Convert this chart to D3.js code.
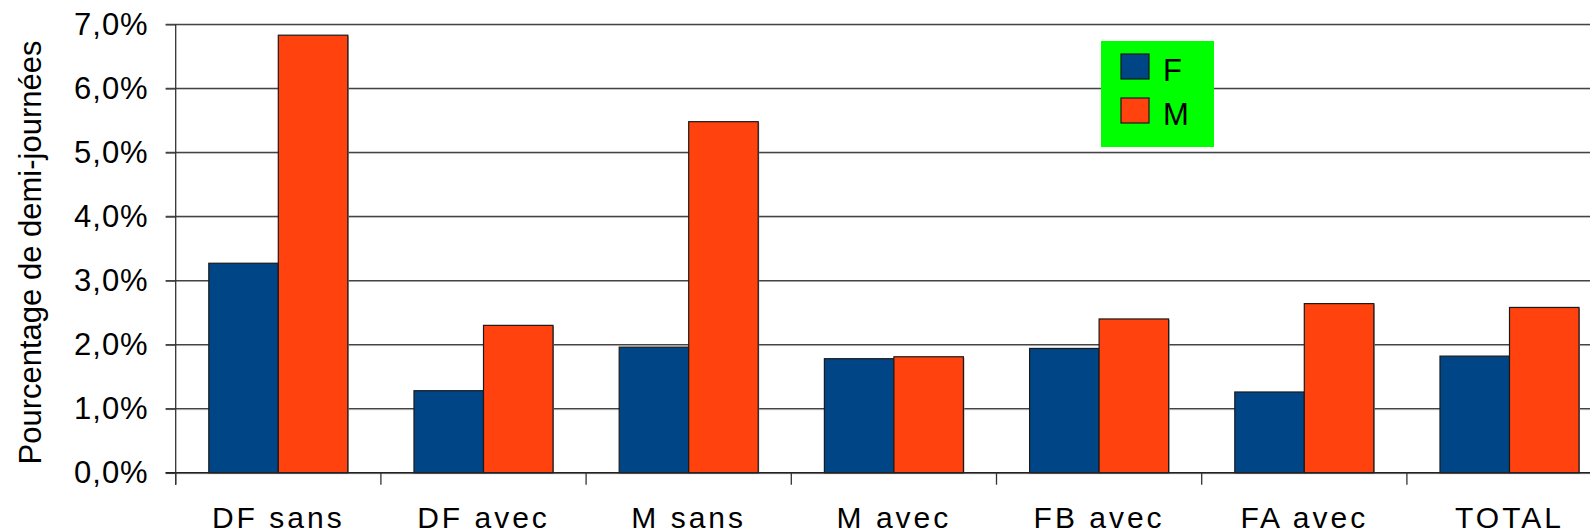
<!DOCTYPE html>
<html>
<head>
<meta charset="utf-8">
<script src="https://cdn.jsdelivr.net/npm/d3@7"></script>
<style>
  html, body { margin: 0; padding: 0; background: #fff; }
  svg { display: block; font-family: "Liberation Sans", Arial, sans-serif; }
</style>
</head>
<body>
<div id="chart"></div>
<script>
const categories = ["DF sans", "DF avec", "M sans", "M avec", "FB avec", "FA avec", "TOTAL"];
const seriesNames = ["F", "M"];
const valuesF = [0.0327, 0.0128, 0.0196, 0.0178, 0.0194, 0.0126, 0.0182];
const valuesM = [0.0683, 0.0230, 0.0548, 0.0181, 0.0240, 0.0264, 0.0258];
const yTicks = [0, 0.01, 0.02, 0.03, 0.04, 0.05, 0.06, 0.07];
const yTitle = "Pourcentage de demi-journées";

const colors = { F: "#004586", M: "#ff420e" };
const W = 1590, H = 531;
const left = 175.7, baseY = 472.7, topY = 24.3, bandW = 205.2;

const fr = d3.formatLocale({ decimal: ",", thousands: " ", grouping: [3], currency: ["", " €"] });
const pct = fr.format(".1%");

const rows = categories.map((c, i) => ({ cat: c, F: valuesF[i], M: valuesM[i] }));

const svg = d3.select("#chart").append("svg")
  .attr("width", W).attr("height", H);

const x0 = d3.scaleBand().domain(categories)
  .range([left, left + bandW * categories.length]).padding(0);
const x1 = d3.scaleBand().domain(seriesNames)
  .range([0, x0.bandwidth()]).paddingInner(0).paddingOuter(0.476);
const y = d3.scaleLinear().domain([0, 0.07]).range([baseY, topY]);

// gridlines (dark line with a light shade under it)
const grid = svg.append("g");
yTicks.forEach(t => {
  grid.append("line").attr("x1", left - 10).attr("x2", W)
    .attr("y1", y(t) + 1).attr("y2", y(t) + 1)
    .attr("stroke", "#bbb").attr("stroke-width", 1);
  grid.append("line").attr("x1", left - 10).attr("x2", W)
    .attr("y1", y(t)).attr("y2", y(t))
    .attr("stroke", "#444").attr("stroke-width", 1.3);
});

// bars
const groups = svg.append("g").selectAll("g")
  .data(rows).join("g")
  .attr("transform", d => `translate(${x0(d.cat)},0)`);

groups.selectAll("rect.shade")
  .data(d => seriesNames.map(k => ({ key: k, value: d[k] })))
  .join("rect").attr("class", "shade")
  .attr("x", d => x1(d.key) + 1)
  .attr("y", d => y(d.value) + 1)
  .attr("width", x1.bandwidth())
  .attr("height", d => baseY - y(d.value))
  .attr("fill", "#999");

groups.selectAll("rect.bar")
  .data(d => seriesNames.map(k => ({ key: k, value: d[k] })))
  .join("rect").attr("class", "bar")
  .attr("x", d => x1(d.key))
  .attr("y", d => y(d.value))
  .attr("width", x1.bandwidth())
  .attr("height", d => baseY - y(d.value))
  .attr("fill", d => colors[d.key])
  .attr("stroke", "#1a1a1a").attr("stroke-width", 1.2);

// y axis
const yAxis = svg.append("g")
  .attr("transform", `translate(${left},0)`)
  .call(d3.axisLeft(y).tickValues(yTicks).tickFormat(pct).tickSize(10).tickPadding(17));
yAxis.select(".domain").remove();
yAxis.selectAll(".tick line").attr("stroke", "#444").attr("stroke-width", 1.3);
yAxis.selectAll("text")
  .attr("font-size", 31).attr("fill", "#000")
  .attr("letter-spacing", 1)
  .attr("font-family", "Liberation Sans, Arial, sans-serif");
svg.append("line")
  .attr("x1", left).attr("x2", left).attr("y1", topY).attr("y2", baseY + 12)
  .attr("stroke", "#333").attr("stroke-width", 1.3);

// x axis
const xAxis = svg.append("g")
  .attr("transform", `translate(0,${baseY})`)
  .call(d3.axisBottom(x0).tickSize(0).tickPadding(34));
xAxis.select(".domain").remove();
xAxis.selectAll("text")
  .attr("font-size", 30).attr("fill", "#000")
  .attr("letter-spacing", 3)
  .attr("font-family", "Liberation Sans, Arial, sans-serif");
svg.append("line")
  .attr("x1", left - 10).attr("x2", W).attr("y1", baseY).attr("y2", baseY)
  .attr("stroke", "#222").attr("stroke-width", 1.5);
svg.append("g").selectAll("line")
  .data(categories)
  .join("line")
  .attr("x1", d => x0(d)).attr("x2", d => x0(d))
  .attr("y1", baseY).attr("y2", baseY + 12)
  .attr("stroke", "#333").attr("stroke-width", 1.3);

// y title
svg.append("text")
  .attr("transform", `translate(41,${(topY + baseY) / 2 + 4}) rotate(-90)`)
  .attr("text-anchor", "middle")
  .attr("font-size", 31)
  .attr("fill", "#000")
  .text(yTitle);

// legend
const legend = svg.append("g").attr("transform", "translate(1101,41)");
legend.append("rect").attr("width", 113).attr("height", 106).attr("fill", "#00ff00");
seriesNames.forEach((k, i) => {
  legend.append("rect")
    .attr("x", 20).attr("y", 13 + i * 44)
    .attr("width", 28).attr("height", 25)
    .attr("fill", colors[k]).attr("stroke", "#1a1a1a").attr("stroke-width", 1.2);
  legend.append("text")
    .attr("x", 62).attr("y", 40 + i * 44)
    .attr("font-size", 31).attr("fill", "#000")
    .text(k);
});
</script>
</body>
</html>
